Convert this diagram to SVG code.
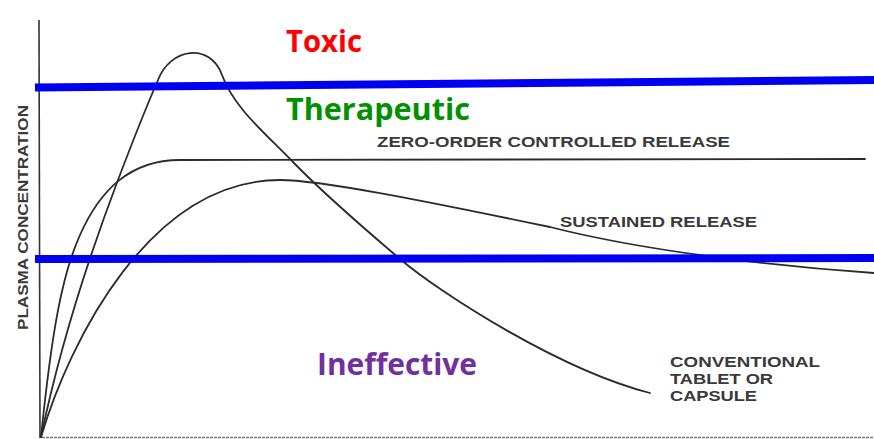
<svg xmlns="http://www.w3.org/2000/svg" width="874" height="439" viewBox="0 0 874 439">
<style>
.curve{fill:none;stroke:#2b2b2b;stroke-width:1.8;stroke-linecap:round}
.axis{fill:none;stroke:#333;stroke-width:1.6}
.band{stroke:#0000f0;stroke-width:8}
.lbl{font-family:"Liberation Sans",Arial,sans-serif;font-weight:bold;fill:#3a3a3a;font-size:15px}
.zone{font-family:"Open Sans","Liberation Sans",sans-serif;font-weight:bold;font-size:31px}
</style>
<rect width="874" height="439" fill="#fff"/>
<g id="axes">
<line class="axis" x1="39" y1="20" x2="40" y2="438"/>
<line x1="42" y1="437.5" x2="874" y2="437.5" stroke="#777" stroke-width="1.4" stroke-dasharray="3 1"/>
</g>
<g id="connectors">
<path id="conventional" class="curve" d="M41,437 C55,370 80,280 118,180 C132,143 145,110 158,80 C170,48 210,42 222,75 C234,108 265,133 293,162 C321,191 360,225 400,259 C440,293 560,370 650,393"/>
<path id="zero-order" class="curve" d="M41,437 C52,330 62,275 80,235 C100,190 130,160 180,160 L865,159"/>
<path id="sustained" class="curve" d="M41,437 C70,340 150,180 280,180 C320,180 420,200 550,227 C640,250 770,266 874,273"/>
</g>
<g id="thresholds">
<line class="band" x1="35" y1="87.5" x2="874" y2="80"/>
<line class="band" x1="35" y1="259" x2="874" y2="258"/>
</g>
<g id="labels">
<text class="lbl" transform="translate(28,330) rotate(-90)" x="0" y="0" textLength="225" lengthAdjust="spacingAndGlyphs" font-size="17">PLASMA CONCENTRATION</text>
<text class="lbl" x="377" y="147" font-size="16" textLength="353" lengthAdjust="spacingAndGlyphs">ZERO-ORDER CONTROLLED RELEASE</text>
<text class="lbl" x="560" y="227" font-size="16" textLength="197" lengthAdjust="spacingAndGlyphs">SUSTAINED RELEASE</text>
<text class="lbl" x="670" y="367" font-size="14" textLength="150" lengthAdjust="spacingAndGlyphs">CONVENTIONAL</text>
<text class="lbl" x="670" y="384" font-size="14" textLength="103" lengthAdjust="spacingAndGlyphs">TABLET OR</text>
<text class="lbl" x="670" y="401" font-size="14" textLength="87" lengthAdjust="spacingAndGlyphs">CAPSULE</text>
</g>
<g id="zones">
<text class="zone" x="286" y="52" fill="#ff0000" textLength="76" lengthAdjust="spacingAndGlyphs">Toxic</text>
<text class="zone" x="286" y="120" fill="#009000" textLength="184" lengthAdjust="spacingAndGlyphs">Therapeutic</text>
<text class="zone" x="317" y="375" fill="#7030a0" textLength="160" lengthAdjust="spacingAndGlyphs">Ineffective</text>
</g>
</svg>
